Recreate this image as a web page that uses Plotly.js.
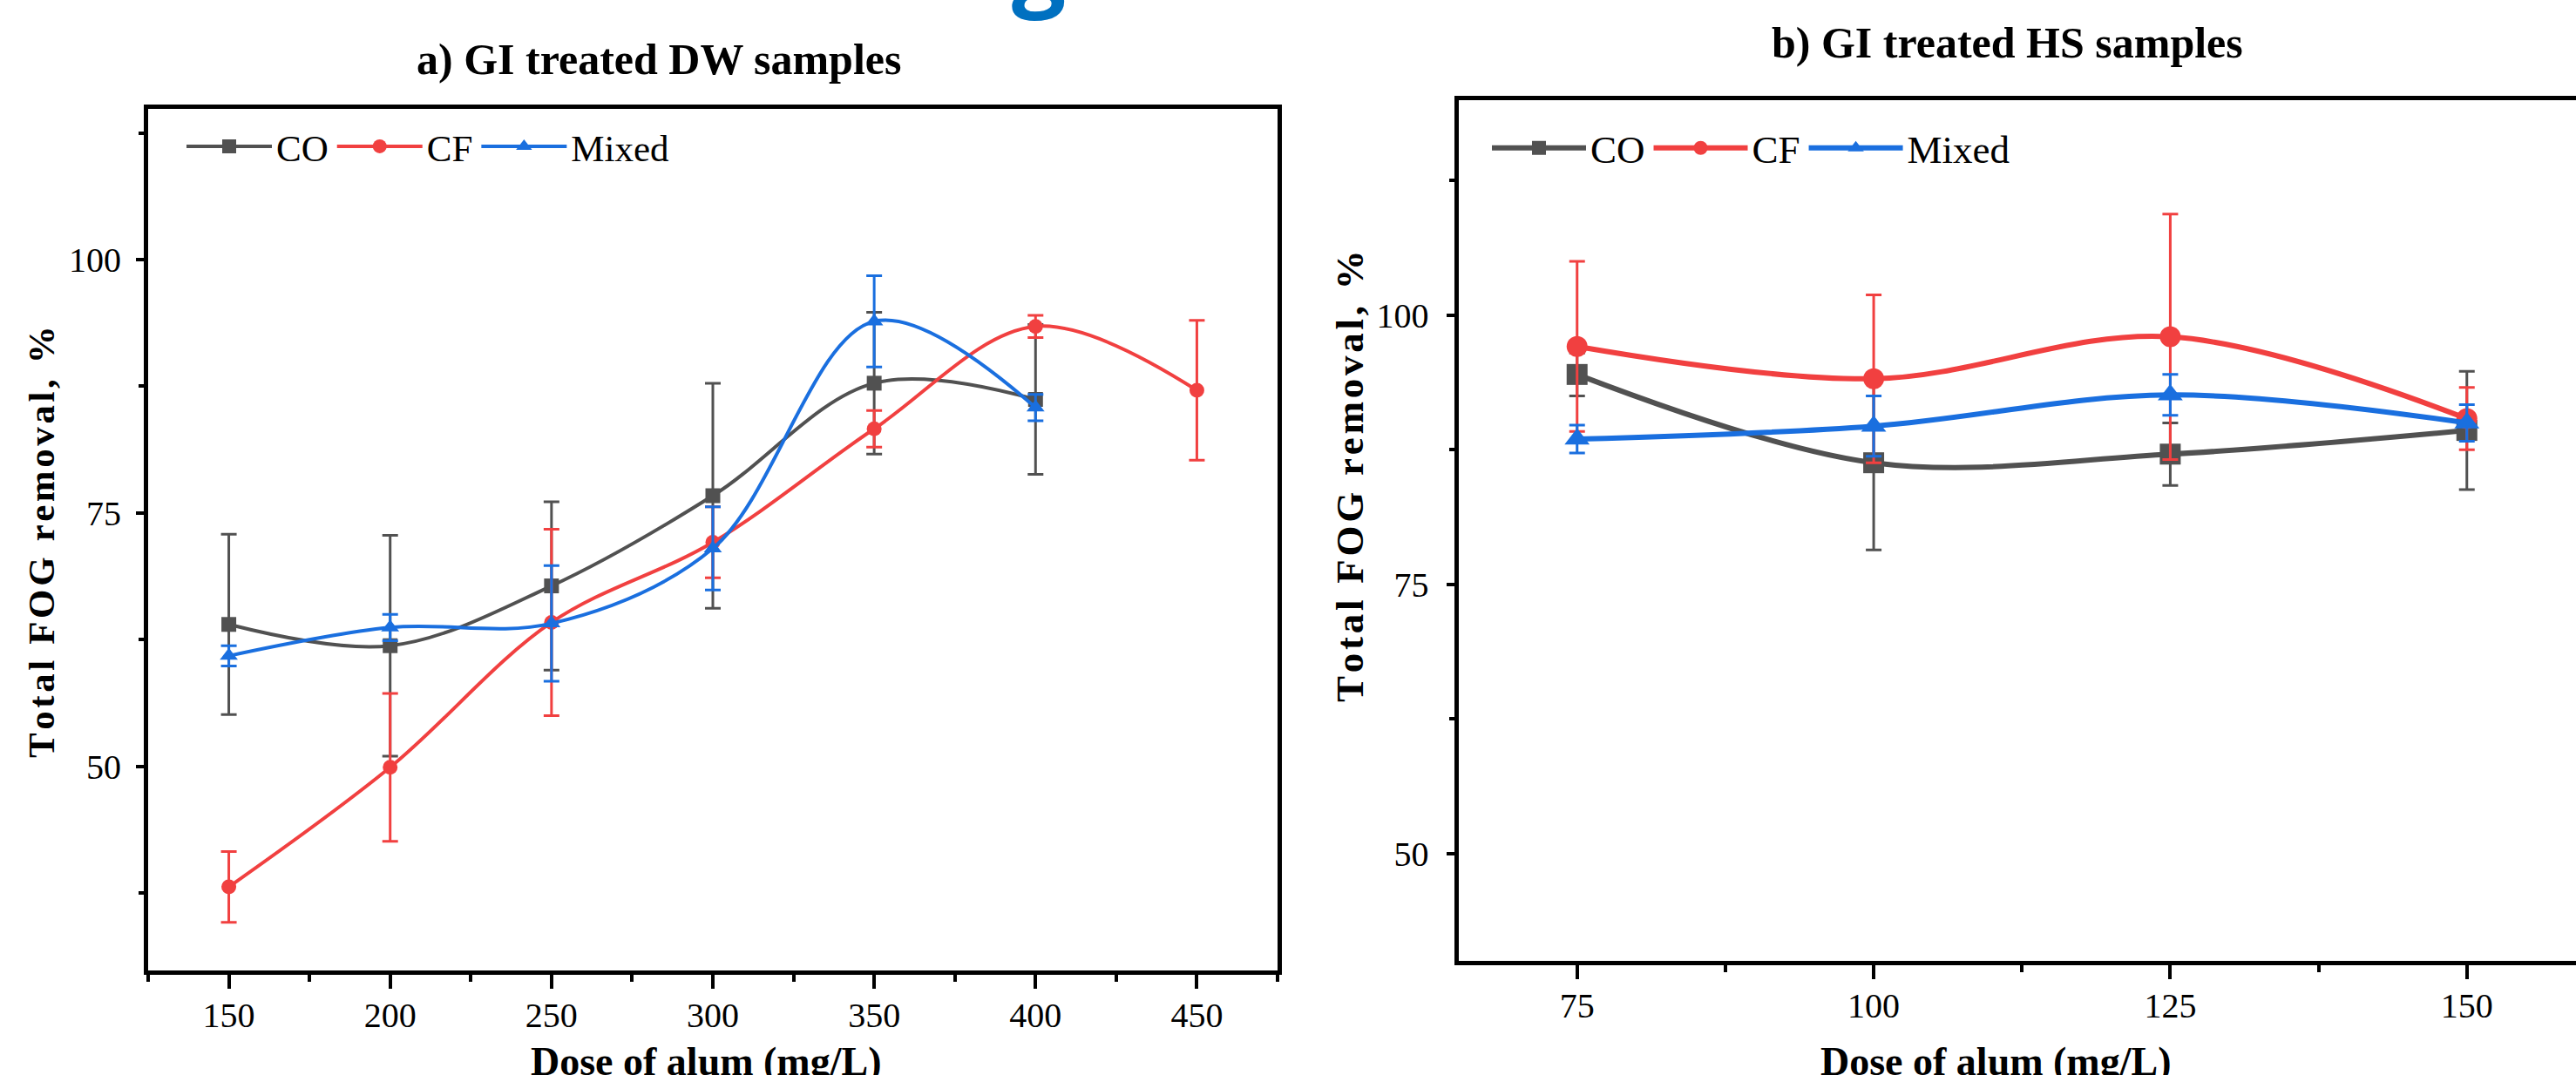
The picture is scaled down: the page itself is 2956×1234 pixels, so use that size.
<!DOCTYPE html>
<html>
<head>
<meta charset="utf-8">
<script src="https://cdn.plot.ly/plotly-3.0.1.min.js"></script>
<style>
  html, body { margin: 0; padding: 0; overflow: hidden; background: #ffffff; }
  #chart { width: 2956px; height: 1234px; }
</style>
</head>
<body>
<div id="chart"></div>
<script>
// ---------- data ----------
// a) GI treated DW samples
const doseDW = [150, 200, 250, 300, 350, 400, 450];
const coDW = [64.0, 61.9, 67.8, 76.7, 87.8, 86.2];
const coDWErr = [8.9, 10.9, 8.3, 11.1, 7.0, 7.4];
const cfDW = [38.1, 49.9, 64.2, 72.1, 83.3, 93.4, 87.1];
const cfDWErr = [3.5, 7.3, 9.2, 3.5, 1.8, 1.1, 6.9];
const mixDW = [60.9, 63.7, 64.1, 71.5, 93.9, 85.4];
const mixDWErr = [1.0, 1.3, 5.7, 4.1, 4.5, 1.3];

// b) GI treated HS samples
const doseHS = [75, 100, 125, 150];
const coHS = [94.5, 86.3, 87.1, 89.3];
const coHSErr = [2.0, 8.1, 2.9, 5.5];
const cfHS = [97.1, 94.1, 98.0, 90.4];
const cfHSErr = [7.9, 7.8, 11.4, 2.9];
const mixHS = [88.5, 89.7, 92.6, 90.0];
const mixHSErr = [1.3, 2.8, 1.9, 1.7];

const seriesNames = ['CO', 'CF', 'Mixed'];
const xTickDW = [150, 200, 250, 300, 350, 400, 450];
const xTickHS = [75, 100, 125, 150];
const yTicks = [50, 75, 100];

// ---------- style ----------
const colors = ['#515151', '#F14040', '#1A6FDF'];
const symbols = ['square', 'circle', 'triangle-up'];
const serif = 'Liberation Serif, Times New Roman, serif';

function mkTrace(x, y, err, i, ax, legendId, lw, ms, ew) {
  return {
    type: 'scatter', mode: 'lines+markers',
    x: x.slice(0, y.length), y: y,
    name: seriesNames[i],
    xaxis: ax[0], yaxis: ax[1],
    legend: legendId,
    line: { color: colors[i], width: lw, shape: 'spline', smoothing: 1 },
    marker: { color: colors[i], symbol: symbols[i], size: ms },
    error_y: { type: 'data', array: err, visible: true, color: colors[i], thickness: ew, width: 9 },
    cliponaxis: true
  };
}

const traces = [
  mkTrace(doseDW, coDW, coDWErr, 0, ['x', 'y'], 'legend', 4, 17, 3),
  mkTrace(doseDW, cfDW, cfDWErr, 1, ['x', 'y'], 'legend', 4, 17, 3),
  mkTrace(doseDW, mixDW, mixDWErr, 2, ['x', 'y'], 'legend', 4, 18, 3),
  mkTrace(doseHS, coHS, coHSErr, 0, ['x2', 'y2'], 'legend2', 6, 24, 3),
  mkTrace(doseHS, cfHS, cfHSErr, 1, ['x2', 'y2'], 'legend2', 6, 24, 3),
  mkTrace(doseHS, mixHS, mixHSErr, 2, ['x2', 'y2'], 'legend2', 6, 25, 3)
];

const W = 2956, H = 1234;
const px = v => v / W;
const py = v => (H - v) / H;

const tickFont = { family: serif, size: 40, color: '#000' };

function xAxis(domain, range, tickvals, anchor, minorD) {
  return {
    domain: domain, range: range, anchor: anchor,
    tickmode: 'array', tickvals: tickvals,
    ticks: 'outside', ticklen: 16, tickwidth: 4, tickcolor: '#000',
    minor: { dtick: minorD, tick0: 0, ticks: 'outside', ticklen: 8, tickwidth: 4, tickcolor: '#000', showgrid: false },
    showline: true, linewidth: 5, linecolor: '#000', mirror: true,
    showgrid: false, zeroline: false,
    tickfont: tickFont, ticklabelstandoff: -4
  };
}
function yAxis(domain, range, anchor, mirror, standoff) {
  return {
    domain: domain, range: range, anchor: anchor,
    tickmode: 'array', tickvals: yTicks,
    ticks: 'outside', ticklen: 9, tickwidth: 4, tickcolor: '#000',
    minor: { dtick: 12.5, tick0: 0, ticks: 'outside', ticklen: 6, tickwidth: 4, tickcolor: '#000', showgrid: false },
    showline: true, linewidth: 5, linecolor: '#000', mirror: mirror,
    showgrid: false, zeroline: false,
    tickfont: tickFont, ticklabelstandoff: standoff
  };
}

const spaced = s => s.split('').join('\u200A');
const yTitle = spaced('Total FOG removal, %');
const xTitle = 'Dose of alum (mg/L)';

const layout = {
  width: W, height: H,
  margin: { l: 0, r: 0, t: 0, b: 0, pad: 0 },
  paper_bgcolor: '#ffffff', plot_bgcolor: '#ffffff',
  font: { family: serif, color: '#000' },
  showlegend: true,
  xaxis: xAxis([px(170), px(1466)], [125, 475], xTickDW, 'y', 25),
  yaxis: yAxis([py(1113.5), py(124.6)], [29.9, 114.9], 'x', true, 9),
  xaxis2: xAxis([px(1673.6), 1], [65, 159.2], xTickHS, 'y2', 12.5),
  yaxis2: yAxis([py(1103.4), py(114.7)], [40, 120], 'x2', false, 12),
  legend: {
    orientation: 'h', x: px(209), y: py(168), xanchor: 'left', yanchor: 'middle',
    bgcolor: 'rgba(0,0,0,0)', font: { family: serif, size: 43, color: '#000' },
    itemwidth: 98
  },
  legend2: {
    orientation: 'h', x: px(1707), y: py(170), xanchor: 'left', yanchor: 'middle',
    bgcolor: 'rgba(0,0,0,0)', font: { family: serif, size: 45, color: '#000' },
    itemwidth: 108
  },
  annotations: [
    { text: '<b>a) GI treated DW samples</b>', xref: 'paper', yref: 'paper', x: px(756), y: py(68),
      xanchor: 'center', yanchor: 'middle', showarrow: false, font: { family: serif, size: 50, color: '#000' } },
    { text: '<b>b) GI treated HS samples</b>', xref: 'paper', yref: 'paper', x: px(2303), y: py(49),
      xanchor: 'center', yanchor: 'middle', showarrow: false, font: { family: serif, size: 50, color: '#000' } },
    { text: '<b>' + xTitle + '</b>', xref: 'paper', yref: 'paper', x: px(810), y: py(1191),
      xanchor: 'center', yanchor: 'top', showarrow: false, font: { family: serif, size: 46, color: '#000' } },
    { text: '<b>' + xTitle + '</b>', xref: 'paper', yref: 'paper', x: px(2290), y: py(1191),
      xanchor: 'center', yanchor: 'top', showarrow: false, font: { family: serif, size: 46, color: '#000' } },
    { text: '<b>' + yTitle + '</b>', xref: 'paper', yref: 'paper', x: px(48), y: py(622),
      xanchor: 'center', yanchor: 'middle', textangle: -90, showarrow: false, font: { family: serif, size: 43, color: '#000' } },
    { text: '<b>' + yTitle + '</b>', xref: 'paper', yref: 'paper', x: px(1549), y: py(546),
      xanchor: 'center', yanchor: 'middle', textangle: -90, showarrow: false, font: { family: serif, size: 45, color: '#000' } },
    { text: '<b>g</b>', xref: 'paper', yref: 'paper', x: px(1192), y: py(-45),
      xanchor: 'center', yanchor: 'middle', showarrow: false, font: { family: 'Open Sans, sans-serif', size: 110, color: '#0070C0' } }
  ]
};

Plotly.newPlot('chart', traces, layout, { displayModeBar: false, staticPlot: true });
</script>
</body>
</html>
